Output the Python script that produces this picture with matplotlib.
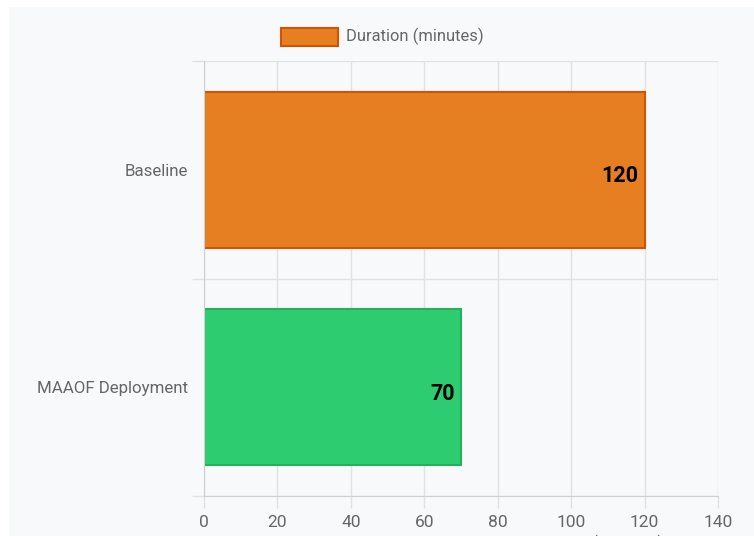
import matplotlib.pyplot as plt
from matplotlib.patches import Rectangle

plt.rcParams['font.family'] = ['Roboto', 'DejaVu Sans']

# data
categories = ["Baseline", "MAAOF Deployment"]
durations = [120, 70]
series_label = "Duration (minutes)"
x_title = "Incident Resolution Time (Minutes)"
x_ticks = [0, 20, 40, 60, 80, 100, 120, 140]

bar_colors = ["#e67e22", "#2ecc71"]
edge_colors = ["#d35400", "#27ae60"]
grid_col = "#e1e1e1"
tick_col = "#666666"

fig = plt.figure(figsize=(7.54, 5.36), dpi=100)
fig.patch.set_facecolor("white")
# light panel behind the chart
fig.patches.append(Rectangle((9 / 754, 0), 1, 1 - 7 / 536, transform=fig.transFigure,
                             facecolor="#f8f9fa", edgecolor="none", zorder=-5))

ax = fig.add_axes([204 / 754, 1 - 496 / 536, (718 - 204) / 754, (496 - 61) / 536])
ax.set_facecolor("none")

ypos = list(range(len(categories)))
bars = ax.barh(ypos, durations, height=0.715, color=bar_colors,
               edgecolor=edge_colors, linewidth=1.5, zorder=2)

# value labels sit a little below the bar middle, like the reference
for b, v in zip(bars, durations):
    ax.annotate(str(v), (b.get_width(), b.get_y() + b.get_height() / 2),
                xytext=(-4.5, -4.5), textcoords="offset points",
                ha="right", va="center", fontsize=15.5, fontweight="bold",
                color="black", zorder=3)

ax.set_xlim(0, 140)
ax.set_ylim(1.5, -0.5)
ax.set_xticks(x_ticks)
ax.set_yticks(ypos)
ax.set_yticklabels(categories)
ax.set_yticks([-0.5, 0.5, 1.5], minor=True)

ax.grid(axis="x", which="major", color=grid_col, linewidth=1, zorder=0)
ax.grid(axis="y", which="minor", color=grid_col, linewidth=1, zorder=0)

ax.tick_params(axis="x", which="major", length=8.6, width=1, color=grid_col,
               labelcolor=tick_col, labelsize=12.5, pad=5)
ax.tick_params(axis="y", which="major", length=0, labelcolor=tick_col,
               labelsize=12.2, pad=11.5)
ax.tick_params(axis="y", which="minor", length=8.6, width=1, color=grid_col)

for s in ["top", "right"]:
    ax.spines[s].set_visible(False)
ax.spines["left"].set_color("#cfcfcf")
ax.spines["bottom"].set_color("#cfcfcf")

# x-axis title, mostly cut off by the bottom edge
fig.text(534 / 754, -0.03, x_title, ha="center", va="bottom",
         fontsize=12, color=tick_col)

# legend at top
fig.patches.append(Rectangle((281 / 754, 1 - 46 / 536), 57 / 754, 18 / 536,
                             transform=fig.transFigure, facecolor=bar_colors[0],
                             edgecolor=edge_colors[0], linewidth=1.5, zorder=3))
fig.text(346 / 754, 1 - 36.5 / 536, series_label, ha="left", va="center",
         fontsize=11.9, color=tick_col)

fig.savefig("out.png", dpi=100, facecolor=fig.get_facecolor())
